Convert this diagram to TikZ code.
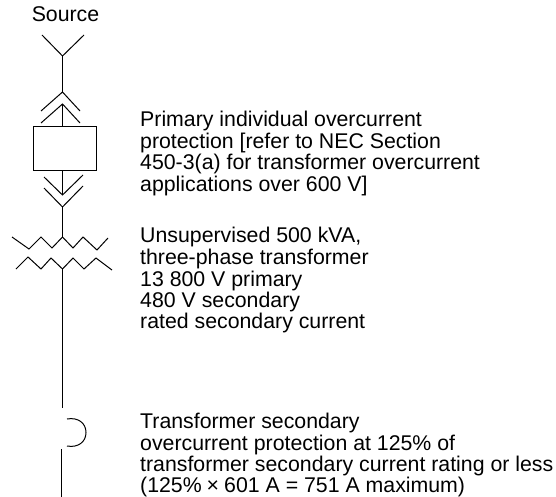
\documentclass[tikz,border=0pt]{standalone}
\usepackage{fontspec}
\setmainfont{Liberation Sans}
\tikzset{
  px/.style={x=1pt,y=-1pt},
  wire/.style={line width=1pt,black},
  label/.style={anchor=base west,inner sep=0pt,font=\fontsize{21.3}{21}\selectfont}
}
\begin{document}
\begin{tikzpicture}[px]
\useasboundingbox (0,0) rectangle (556,497);
\node[label,anchor=base] (src) at (65.5,21.7) {Source};
\draw[wire] (42,35) -- (62.5,56) -- (84,35);
\coordinate (a1) at (62.5,56);
\coordinate (a2) at (62.5,92);
\coordinate (a3) at (62.5,104);
\node[draw,line width=1pt,minimum width=63pt,minimum height=43pt,inner sep=0pt] (box) at (64.5,148.5) {};
\draw[wire] (a1) -- (a2);
\draw[wire] (41,111) -- (a2) -- (80,111);
\draw[wire] (41,123) -- (a3) -- (80,123);
\draw[wire] (a3) -- (a3 |- box.north);
\coordinate (b1) at (62.5,195);
\coordinate (b2) at (62.5,207);
\draw[wire] (b1 |- box.south) -- (b1);
\draw[wire] (44,177) -- (b1) -- (83,175);
\draw[wire] (44,188) -- (b2) -- (83,186);
\coordinate (t1) at (62.5,237);
\coordinate (t2) at (62.5,269);
\coordinate (t3) at (62.5,408);
\draw[wire] (b2) -- (t1);
\draw[wire] (12,237) -- (29,249) -- (41,237) -- (52,248) -- (t1) -- (73,248) -- (83,237) -- (97,250) -- (108,238);
\draw[wire] (16,269) -- (28,257) -- (41,269) -- (51,258) -- (t2) -- (73,258) -- (84,269) -- (96,258) -- (112,270);
\draw[wire] (t2) -- (t3);
\draw[wire] (67,419) .. controls (78,417) and (86,423) .. (86,432.5) .. controls (86,442) and (78,448) .. (67,446);
\coordinate (c1) at (61,449);
\coordinate (c2) at (61,497);
\draw[wire] (c1) -- (c2);
\node[label] (p1) at (140,126.7) {Primary individual overcurrent};
\node[label] (p2) at (140,148.5) {protection [refer to NEC Section};
\node[label] (p3) at (140,170) {450-3(a) for transformer overcurrent};
\node[label] (p4) at (140,191) {applications over 600 V]};
\node[label] (u1) at (140,242.7) {Unsupervised 500 kVA,};
\node[label] (u2) at (140,264) {three-phase transformer};
\node[label] (u3) at (140,286) {13 800 V primary};
\node[label] (u4) at (140,307.3) {480 V secondary};
\node[label] (u5) at (140,328.3) {rated secondary current};
\node[label] (s1) at (140,428.3) {Transformer secondary};
\node[label] (s2) at (140,450) {overcurrent protection at 125\% of};
\node[label] (s3) at (140,471) {transformer secondary current rating or less};
\node[label] (s4) at (140,492.3) {(125\%\kern5pt×\kern5pt601 A = 751 A maximum)};
\end{tikzpicture}
\end{document}
